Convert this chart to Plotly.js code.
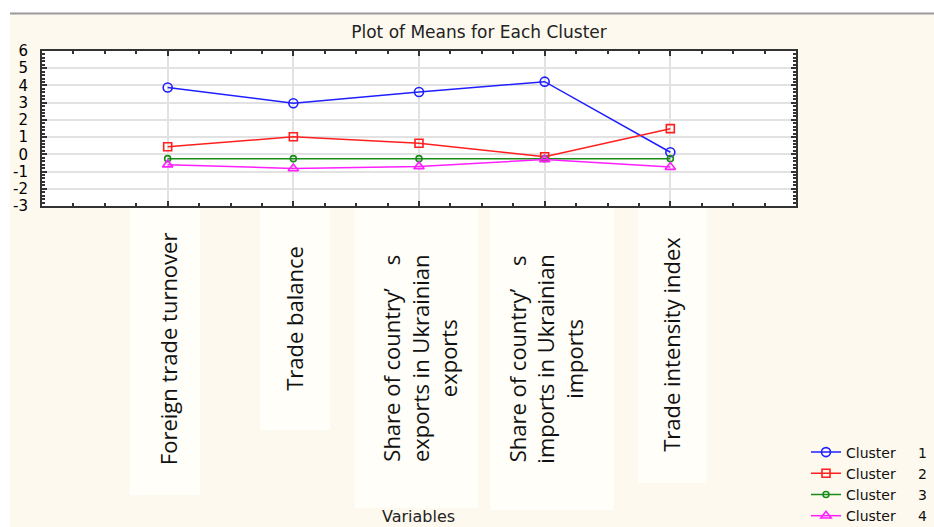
<!DOCTYPE html>
<html>
<head>
<meta charset="utf-8">
<script src="https://cdn.plot.ly/plotly-3.0.1.min.js"></script>
<style>html,body{margin:0;padding:0;background:#fff;}#chart{width:934px;height:527px;}</style>
</head>
<body>
<div id="chart"></div>
<script>
// ---- data ----
var categories = ["Foreign trade turnover", "Trade balance", "Share of country’ s exports in Ukrainian exports", "Share of country’ s imports in Ukrainian imports", "Trade intensity index"];
var categoryLabels = ["Foreign trade turnover", "Trade balance", "Share of country’\u00a0\u00a0\u00a0 s<br>exports in Ukrainian<br>exports", "Share of country’\u00a0\u00a0\u00a0 s<br>imports in Ukrainian<br>imports", "Trade intensity index"];
var seriesNames = ["Cluster\u00a0\u00a0\u00a0\u00a0\u00a01", "Cluster\u00a0\u00a0\u00a0\u00a0\u00a02", "Cluster\u00a0\u00a0\u00a0\u00a0\u00a03", "Cluster\u00a0\u00a0\u00a0\u00a0\u00a04"];
var cluster1 = [3.88, 2.97, 3.62, 4.22, 0.12];
var cluster2 = [0.44, 1.02, 0.64, -0.14, 1.49];
var cluster3 = [-0.25, -0.25, -0.25, -0.25, -0.25];
var cluster4 = [-0.60, -0.82, -0.70, -0.30, -0.74];
var yTicks = [-3, -2, -1, 0, 1, 2, 3, 4, 5, 6];

// ---- layout helpers (pixel -> paper) ----
var W = 934, H = 527, L = 42, R = 796, T = 51, B = 206;
function px2x(px) { return (px - L) / (R - L); }
function py2y(py) { return (B - py) / (B - T); }

var xIdx = categories.map(function (c, i) { return i + 1; });

var styles = [
  {color: "#1f1fff", symbol: "circle-open", size: 9},
  {color: "#ff1f1f", symbol: "square-open", size: 8},
  {color: "#1a8c1a", symbol: "circle-open", size: 6},
  {color: "#ff1fff", symbol: "triangle-up-open", size: 9}
];
var values = [cluster1, cluster2, cluster3, cluster4];

var traces = values.map(function (v, k) {
  return {
    x: xIdx, y: v, type: "scatter", mode: "lines+markers", name: seriesNames[k],
    line: {color: styles[k].color, width: 1.5},
    marker: {symbol: styles[k].symbol, size: styles[k].size, color: styles[k].color, line: {color: styles[k].color, width: 1.6}}
  };
});

// label boxes (pixel rectangles) and label tops
var boxes = [[130, 200, 495], [260, 330, 430], [355, 478, 508], [490, 614, 510], [638, 707, 483]];
var labelTops = [230, 244, 252, 252, 235];

var shapes = [
  {type: "rect", xref: "paper", yref: "paper", x0: px2x(0), x1: px2x(W), y0: py2y(0), y1: py2y(13), fillcolor: "#ffffff", line: {width: 0}, layer: "below"},
  {type: "rect", xref: "paper", yref: "paper", x0: px2x(0), x1: px2x(10), y0: py2y(0), y1: py2y(H), fillcolor: "#ffffff", line: {width: 0}, layer: "below"},
  {type: "line", xref: "paper", yref: "paper", x0: px2x(10), x1: px2x(W), y0: py2y(13.5), y1: py2y(13.5), line: {color: "#9a9a9a", width: 2}}
];
boxes.forEach(function (b) {
  shapes.push({type: "rect", xref: "paper", yref: "paper", x0: px2x(b[0]), x1: px2x(b[1]), y0: py2y(208), y1: py2y(b[2]), fillcolor: "#fffef8", line: {width: 0}, layer: "below"});
});

var annotations = categoryLabels.map(function (t, i) {
  return {
    text: t, x: xIdx[i], xref: "x", y: py2y(labelTops[i]), yref: "paper",
    xanchor: "center", yanchor: "top", textangle: -90, showarrow: false, align: "center",
    font: {family: "Open Sans", size: 22, color: "#111"}
  };
});
annotations.push({
  text: "Variables", x: px2x(418), xref: "paper", y: py2y(516), yref: "paper",
  xanchor: "center", yanchor: "middle", showarrow: false,
  font: {family: "DejaVu Sans", size: 16, color: "#222"}
});

var layout = {
  width: W, height: H,
  margin: {l: L, r: W - R, t: T, b: H - B, pad: 0},
  paper_bgcolor: "#fdf9ee",
  plot_bgcolor: "#ffffff",
  title: {text: "Plot of Means for Each Cluster", xref: "container", yref: "container", x: 479 / W, y: 1 - 32 / H, xanchor: "center", yanchor: "middle",
          font: {family: "DejaVu Sans", size: 17, color: "#222"}},
  xaxis: {
    type: "linear", range: [0, 6], tickmode: "array", tickvals: xIdx, showticklabels: false,
    ticks: "inside", ticklen: 5, tickwidth: 2, tickcolor: "#333",
    showgrid: true, gridcolor: "#e2e2e2", gridwidth: 2, zeroline: false,
    showline: true, linecolor: "#333", linewidth: 2, mirror: "ticks", automargin: false, fixedrange: true,
    minor: {tickmode: "linear", tick0: 0, dtick: 0.25, ticks: "inside", ticklen: 3, tickcolor: "#333", showgrid: false}
  },
  yaxis: {
    range: [-3, 6], tickmode: "array", tickvals: yTicks, ticktext: yTicks.map(String),
    ticks: "inside", ticklen: 5, tickwidth: 2, tickcolor: "#333",
    tickfont: {family: "DejaVu Sans", size: 15, color: "#000"},
    showgrid: true, gridcolor: "#e2e2e2", gridwidth: 2, zeroline: false,
    showline: true, linecolor: "#333", linewidth: 2, mirror: "ticks", automargin: false, fixedrange: true,
    ticklabelstandoff: 9,
    minor: {tickmode: "linear", tick0: 0, dtick: 0.2, ticks: "inside", ticklen: 3, tickcolor: "#333", showgrid: false}
  },
  showlegend: true,
  legend: {xref: "container", yref: "container", x: 806 / W, y: 1 - 484 / H, xanchor: "left", yanchor: "middle",
           bgcolor: "rgba(0,0,0,0)", borderwidth: 0, font: {family: "DejaVu Sans", size: 14, color: "#111"}},
  shapes: shapes,
  annotations: annotations
};

Plotly.newPlot("chart", traces, layout, {displayModeBar: false, staticPlot: true});
</script>
</body>
</html>
